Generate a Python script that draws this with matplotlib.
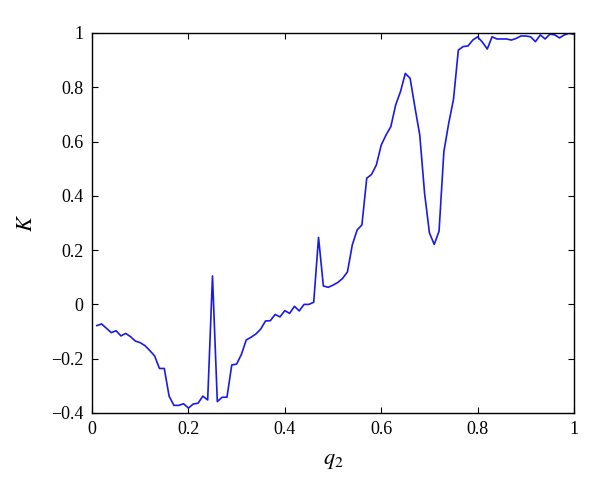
import matplotlib
matplotlib.use("Agg")
import matplotlib.pyplot as plt
import numpy as np

# q2 sampled every 0.01 from 0.01 to 1.00
q2 = np.round(np.arange(1, 101) * 0.01, 2)
K = [
    -0.078, -0.072, -0.088, -0.104, -0.097, -0.116, -0.107, -0.119, -0.135, -0.141,
    -0.152, -0.170, -0.190, -0.236, -0.236, -0.338, -0.372, -0.372, -0.366, -0.382,
    -0.367, -0.364, -0.338, -0.352, 0.105, -0.358, -0.342, -0.342, -0.223, -0.220,
    -0.184, -0.131, -0.121, -0.109, -0.091, -0.061, -0.060, -0.037, -0.046, -0.023,
    -0.033, -0.007, -0.024, 0.000, 0.000, 0.008, 0.247, 0.068, 0.063, 0.071,
    0.081, 0.096, 0.120, 0.219, 0.274, 0.293, 0.465, 0.479, 0.514, 0.587,
    0.624, 0.655, 0.735, 0.784, 0.851, 0.833, 0.726, 0.624, 0.409, 0.264,
    0.221, 0.270, 0.563, 0.667, 0.756, 0.937, 0.950, 0.952, 0.974, 0.986,
    0.966, 0.941, 0.986, 0.978, 0.978, 0.978, 0.974, 0.980, 0.989, 0.989,
    0.986, 0.968, 0.993, 0.978, 0.996, 0.993, 0.982, 0.993, 0.999, 0.995,
]

xticks = [0, 0.2, 0.4, 0.6, 0.8, 1]
xticklabels = ["0", "0.2", "0.4", "0.6", "0.8", "1"]
yticks = [-0.4, -0.2, 0, 0.2, 0.4, 0.6, 0.8, 1]
yticklabels = ["\u22120.4", "\u22120.2", "0", "0.2", "0.4", "0.6", "0.8", "1"]

plt.rcParams['font.family'] = ['Liberation Serif', 'DejaVu Serif']
plt.rcParams['mathtext.fontset'] = 'stix'

fig = plt.figure(figsize=(6, 4.91), dpi=100)
ax = fig.add_axes([0.1533, 0.1589, 0.8034, 0.7739])
ax.plot(q2, K, color='#1a1ae6', linewidth=1.2)

ax.set_xlim(0, 1)
ax.set_ylim(-0.4, 1)
ax.set_xticks(xticks)
ax.set_xticklabels(xticklabels)
ax.set_yticks(yticks)
ax.set_yticklabels(yticklabels)
ax.tick_params(direction='in', length=4, width=0.8, top=True, right=True,
               labelsize=13, pad=6)
for s in ax.spines.values():
    s.set_linewidth(1.0)

ax.set_xlabel(r'$q_2$', fontsize=16, labelpad=10)
ax.set_ylabel(r'$K$', fontsize=16, labelpad=10, rotation=90)

fig.savefig('out.png', dpi=100)
